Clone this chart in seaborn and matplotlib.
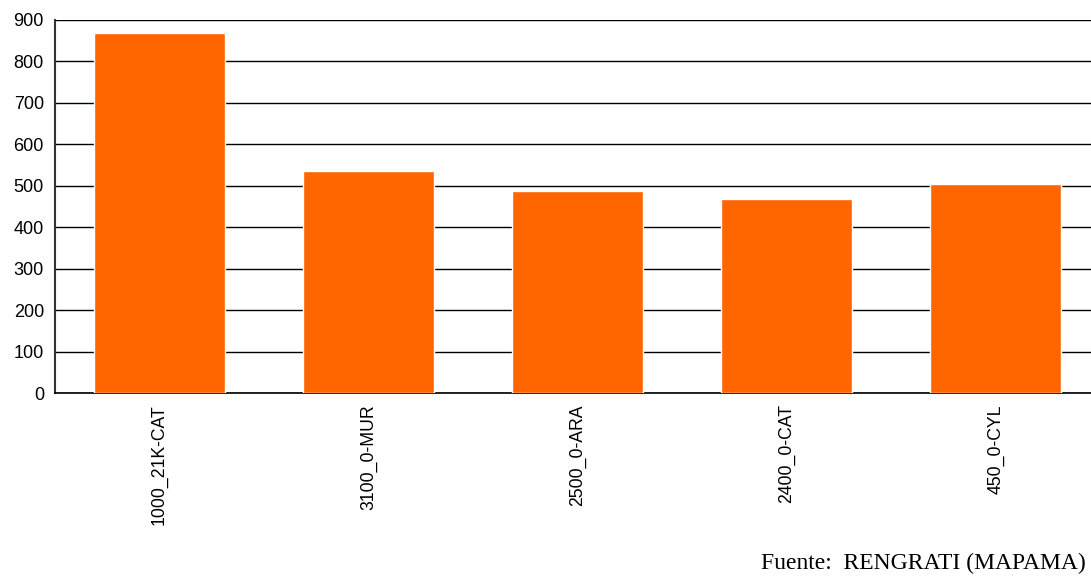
import matplotlib
matplotlib.use("Agg")
import matplotlib.pyplot as plt
import seaborn as sns
import pandas as pd

# Valores
categorias = ["1000_21K-CAT", "3100_0-MUR", "2500_0-ARA", "2400_0-CAT", "450_0-CYL"]
valores = [868, 536, 488, 467, 505]
ticks_y = [0, 100, 200, 300, 400, 500, 600, 700, 800, 900]

df = pd.DataFrame({"categoria": categorias, "valor": valores})

sns.set_style("white")
plt.rcParams["font.family"] = ["Liberation Sans", "DejaVu Sans"]

fig = plt.figure(figsize=(10.91, 5.76), dpi=100)
ax = fig.add_axes([0.0504, 0.3177, 0.958, 0.6476])

sns.barplot(data=df, x="categoria", y="valor", color="#FF6600", saturation=1,
            width=0.63, ax=ax, zorder=3)

ax.set_ylim(0, 900)
ax.set_xlim(-0.5, len(categorias) - 0.5)
ax.set_yticks(ticks_y)
ax.set_yticklabels([str(t) for t in ticks_y], fontsize=13, color="black")
ax.yaxis.grid(True, color="black", linewidth=1, zorder=0)
ax.set_axisbelow(True)

# etiquetas en el centro, marcas entre categorias
ax.set_xticks(range(len(categorias)))
ax.set_xticklabels(categorias, rotation=90, fontsize=12.7, color="black")
ax.tick_params(axis="x", length=0, pad=8)
ax.set_xticks([i + 0.5 for i in range(len(categorias) - 1)], minor=True)
ax.tick_params(axis="x", which="minor", length=4, width=1, color="#333333", direction="out")
ax.tick_params(axis="y", length=5, width=1, color="#333333", direction="out", pad=3)

ax.set_xlabel("")
ax.set_ylabel("")
for s in ["top", "right"]:
    ax.spines[s].set_visible(False)
ax.spines["left"].set_color("#333333")
ax.spines["bottom"].set_color("black")
ax.spines["left"].set_linewidth(1.5)
ax.spines["bottom"].set_linewidth(1.2)

fig.text(0.995, 0.004, "Fuente:  RENGRATI (MAPAMA)", ha="right", va="bottom",
         fontsize=17, color="black", family=["Liberation Serif", "DejaVu Serif"])

fig.savefig("out.png", dpi=100, facecolor="white")
